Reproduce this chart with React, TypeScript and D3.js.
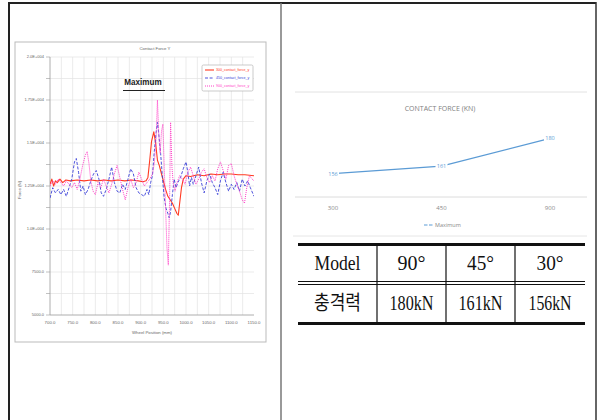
import * as d3 from 'd3'

// left chart: contact force vs wheel position
const xTicks = [700, 750, 800, 850, 900, 950, 1000, 1050, 1100, 1150]
const yTicks = [5000, 7500, 10000, 12500, 15000, 17500, 20000]
const yTickLabels = ['5000.0', '7500.0', '1.0E+004', '1.25E+004', '1.5E+004', '1.75E+004', '2.0E+004']

const force300: [number, number][] = [
  [700, 12600], [704, 12900], [708, 12500], [712, 12800], [716, 12700], [722, 12900], [728, 12700],
  [735, 12850], [745, 12800], [760, 12850], [775, 12800], [790, 12850], [805, 12800], [820, 12850],
  [835, 12800], [850, 12850], [865, 12800], [880, 12850], [895, 12800], [905, 12750], [912, 12800],
  [916, 13000], [920, 14000], [924, 15100], [929, 15650], [933, 15000], [937, 14000], [941, 13700],
  [945, 13300], [950, 12800], [955, 12300], [960, 11900], [965, 11700], [970, 11500], [975, 11200],
  [980, 10900], [983, 10800], [986, 11500], [990, 12400], [994, 12900], [1000, 13100], [1010, 13050],
  [1025, 13150], [1040, 13100], [1055, 13200], [1070, 13150], [1085, 13200], [1100, 13200],
  [1115, 13150], [1130, 13150], [1150, 13100]
]

const force450: [number, number][] = [
  [700, 11800], [706, 12400], [712, 12100], [718, 12300], [724, 12000], [730, 12300], [736, 11900],
  [742, 12400], [748, 12900], [754, 13900], [758, 14100], [763, 13300], [768, 12200], [773, 12500],
  [778, 12000], [784, 12300], [790, 12800], [796, 13200], [802, 13400], [808, 12900], [813, 12100],
  [818, 11900], [824, 12300], [830, 12900], [836, 13600], [842, 12700], [848, 12200], [854, 12100],
  [860, 12600], [866, 12300], [872, 12900], [878, 13500], [884, 13200], [890, 12400], [896, 12100],
  [902, 12000], [908, 11900], [914, 12300], [918, 12000], [922, 12700], [926, 13100], [930, 14500],
  [934, 15600], [937, 16200], [940, 15500], [944, 14400], [948, 13000], [952, 11800], [956, 11200],
  [960, 10900], [963, 10650], [966, 11000], [970, 12000], [974, 12900], [978, 12400], [982, 12700],
  [988, 13000], [994, 13500], [1000, 13900], [1004, 13300], [1008, 12500], [1012, 13000], [1016, 12600],
  [1022, 13100], [1028, 13600], [1034, 12700], [1040, 12100], [1046, 12800], [1052, 13200], [1058, 12700],
  [1064, 12400], [1070, 12000], [1076, 12800], [1082, 13300], [1088, 12700], [1094, 12200], [1100, 12600],
  [1106, 12300], [1112, 12700], [1118, 12200], [1124, 12900], [1130, 12500], [1136, 12800], [1142, 12400],
  [1150, 11900]
]

const force900: [number, number][] = [
  [700, 12500], [706, 12800], [712, 12600], [718, 12900], [724, 12700], [730, 12500], [736, 12800],
  [742, 12600], [748, 12400], [754, 12700], [760, 12300], [766, 12900], [772, 13700], [778, 14300],
  [782, 14500], [786, 13800], [790, 12800], [795, 12200], [800, 12000], [806, 12700], [812, 12400],
  [818, 12900], [824, 12500], [830, 12100], [836, 12600], [842, 13200], [848, 13700], [854, 13000],
  [860, 12300], [866, 11700], [872, 12400], [878, 12900], [884, 12400], [890, 12700], [896, 13300],
  [902, 12900], [908, 12500], [914, 12700], [920, 12900], [926, 13200], [930, 13800], [934, 15200],
  [937, 17500], [940, 15500], [943, 14400], [946, 15700], [949, 16100], [952, 13600], [955, 11200],
  [958, 8900], [961, 7900], [964, 12000], [966, 16200], [969, 13600], [972, 12600], [976, 12200],
  [980, 12700], [986, 13100], [992, 12900], [998, 12600], [1004, 13300], [1010, 13600], [1016, 13100],
  [1022, 12600], [1028, 12900], [1034, 13300], [1040, 13500], [1046, 13000], [1052, 12700], [1058, 13100],
  [1064, 12800], [1070, 13500], [1076, 13900], [1082, 13400], [1088, 12900], [1094, 13700], [1100, 13800],
  [1106, 13100], [1112, 12600], [1118, 12200], [1124, 11700], [1129, 11500], [1134, 12400], [1140, 13100],
  [1146, 12900], [1150, 12800]
]

const seriesNames = ['300_contact_force_y', '450_contact_force_y', '900_contact_force_y']

// right chart: maximum contact force per model
const models = ['300', '450', '900']
const maxForce = [156, 161, 180]

// table
const tableHead = ['Model', '90°', '45°', '30°']
const tableRow = ['충격력', '180kN', '161kN', '156kN']

export default function App() {
  const x = d3.scaleLinear().domain([700, 1150]).range([50, 254])
  const y = d3.scaleLinear().domain([5000, 20000]).range([315, 57])
  const line = d3.line<[number, number]>().x(d => x(d[0])).y(d => y(d[1]))

  const series = [
    { data: force300, color: '#ff3a22', dash: 'none', width: 1.1 },
    { data: force450, color: '#3a3fd8', dash: '3,1.6', width: 0.9 },
    { data: force900, color: '#ff3fc8', dash: '1,1', width: 1 }
  ]

  const xp = d3.scalePoint<string>().domain(models).range([333, 550])
  const yp = d3.scaleLinear().domain([140, 200]).range([197, 109])
  const pLine = d3.line<number>().x((_, i) => xp(models[i])!).y(d => yp(d))

  const colX = [298, 377, 446, 515, 585]
  const cellW = [[46, 28, 27, 27], [47, 44, 44, 43]]
  const sans = 'Arial, "Liberation Sans", sans-serif'
  const serif = '"Liberation Serif", "Noto Sans CJK KR", serif'

  return (
    <svg width={598} height={420} style={{ position: 'absolute', left: 0, top: 0, background: '#fff' }}>
      {/* outer frame */}
      <line x1={9} x2={596} y1={3} y2={3} stroke="#222" strokeWidth={2} />
      <line x1={9} x2={9} y1={2} y2={420} stroke="#222" strokeWidth={2} />
      <line x1={596} x2={596} y1={2} y2={420} stroke="#333" strokeWidth={1.5} />
      <line x1={281} x2={281} y1={3} y2={420} stroke="#777" strokeWidth={1.5} />

      {/* left chart frame */}
      <rect x={15} y={42} width={251} height={300} fill="#fff" stroke="#bbb" strokeWidth={1} />
      <defs>
        <clipPath id="plot">
          <rect x={50} y={57} width={204} height={258} />
        </clipPath>
      </defs>
      {d3.range(725, 1150, 25).map(v => (
        <line key={'gx' + v} x1={x(v)} x2={x(v)} y1={57} y2={315} stroke="#e2e2e2" strokeWidth={0.7} />
      ))}
      {d3.range(6250, 20001, 1250).map(v => (
        <line key={'gy' + v} x1={50} x2={254} y1={y(v)} y2={y(v)} stroke="#e2e2e2" strokeWidth={0.7} />
      ))}
      <line x1={50} x2={50} y1={57} y2={315} stroke="#999" strokeWidth={0.8} />
      <line x1={50} x2={254} y1={315} y2={315} stroke="#999" strokeWidth={0.8} />
      {d3.range(5000, 20001, 1250).map(v => (
        <line key={'ty' + v} x1={46} x2={50} y1={y(v)} y2={y(v)} stroke="#999" strokeWidth={0.6} />
      ))}
      {yTicks.map((v, i) => (
        <text key={'yl' + v} x={44} y={y(v) + 1.4} textAnchor="end" fontSize={4} fill="#666" fontFamily={sans}>
          {yTickLabels[i]}
        </text>
      ))}
      {xTicks.map(v => (
        <text key={'xl' + v} x={x(v)} y={324} textAnchor="middle" fontSize={4.3} fill="#666" fontFamily={sans}>
          {v.toFixed(1)}
        </text>
      ))}
      <text x={155} y={50} textAnchor="middle" fontSize={4.3} fill="#666" fontFamily={sans}>Contact Force Y</text>
      <text x={152} y={334} textAnchor="middle" fontSize={4.3} fill="#666" fontFamily={sans}>Wheel Position (mm)</text>
      <text transform="translate(21,190) rotate(-90)" textAnchor="middle" fontSize={4.3} fill="#666" fontFamily={sans}>
        Force (N)
      </text>

      <g clipPath="url(#plot)">
        {series.map((s, i) => (
          <path key={i} d={line(s.data) ?? ''} fill="none" stroke={s.color} strokeWidth={s.width}
            strokeDasharray={s.dash} strokeLinejoin="round" />
        ))}
      </g>

      {/* legend */}
      <rect x={202} y={65} width={51} height={26} fill="#fff" stroke="#aaa" strokeWidth={0.6} rx={1.5} />
      {series.map((s, i) => (
        <g key={'lg' + i}>
          <line x1={205} x2={214} y1={70 + i * 8} y2={70 + i * 8} stroke={s.color} strokeWidth={s.width}
            strokeDasharray={s.dash} />
          <text x={216} y={71.3 + i * 8} fontSize={3.6} fill={s.color} fontFamily={sans}>{seriesNames[i]}</text>
        </g>
      ))}

      {/* annotation */}
      <text x={143} y={85} textAnchor="middle" fontSize={9} fontWeight="bold" fill="#222" fontFamily={sans}
        transform="translate(143,0) scale(0.9,1) translate(-143,0)">Maximum</text>
      <line x1={123} x2={165} y1={90.5} y2={90.5} stroke="#222" strokeWidth={1} />

      {/* right chart */}
      <line x1={295} x2={587} y1={92} y2={92} stroke="#e2e2e2" strokeWidth={1} />
      <text x={440} y={111} textAnchor="middle" fontSize={7} fill="#808080" fontFamily='"Open Sans", sans-serif'>
        CONTACT FORCE (KN)
      </text>
      <line x1={295} x2={587} y1={197} y2={197} stroke="#dcdcdc" strokeWidth={1} />
      <path d={pLine(maxForce) ?? ''} fill="none" stroke="#5b9bd5" strokeWidth={1.3} />
      {maxForce.map((v, i) => (
        <g key={'pl' + i}>
          <rect x={xp(models[i])! - 6} y={yp(v) - 3.5} width={12} height={7} fill="#fff" />
          <text x={xp(models[i])!} y={yp(v) + 2} textAnchor="middle" fontSize={5.5} fill="#5b9bd5"
            fontFamily='"Open Sans", sans-serif'>{v}</text>
        </g>
      ))}
      {models.map(m => (
        <text key={'ml' + m} x={xp(m)} y={210} textAnchor="middle" fontSize={6} fill="#888"
          fontFamily='"Open Sans", sans-serif'>{m}</text>
      ))}
      <line x1={424} x2={433} y1={225} y2={225} stroke="#5b9bd5" strokeWidth={1.2} strokeDasharray="3.5,1.5" />
      <text x={435} y={227} fontSize={5.5} fill="#888" fontFamily='"Open Sans", sans-serif'>Maximum</text>
      <line x1={293} x2={587} y1={236} y2={236} stroke="#e6e6e6" strokeWidth={1} />

      {/* table */}
      <line x1={298} x2={585} y1={244.5} y2={244.5} stroke="#111" strokeWidth={3} />
      <line x1={298} x2={585} y1={281.5} y2={281.5} stroke="#111" strokeWidth={1} />
      <line x1={298} x2={585} y1={284.5} y2={284.5} stroke="#111" strokeWidth={1} />
      <line x1={298} x2={585} y1={323.5} y2={323.5} stroke="#111" strokeWidth={3} />
      {colX.slice(1, 4).map(cx => (
        <line key={'cv' + cx} x1={cx} x2={cx} y1={244} y2={323} stroke="#111" strokeWidth={1.2} />
      ))}
      {[tableHead, tableRow].map((row, r) =>
        row.map((t, c) => (
          <text key={'tc' + r + c} x={(colX[c] + colX[c + 1]) / 2} y={r === 0 ? 270 : 310}
            textAnchor="middle" fontSize={20} fill="#111" fontFamily={serif}
            textLength={cellW[r][c]} lengthAdjust="spacingAndGlyphs">{t}</text>
        ))
      )}
    </svg>
  )
}
